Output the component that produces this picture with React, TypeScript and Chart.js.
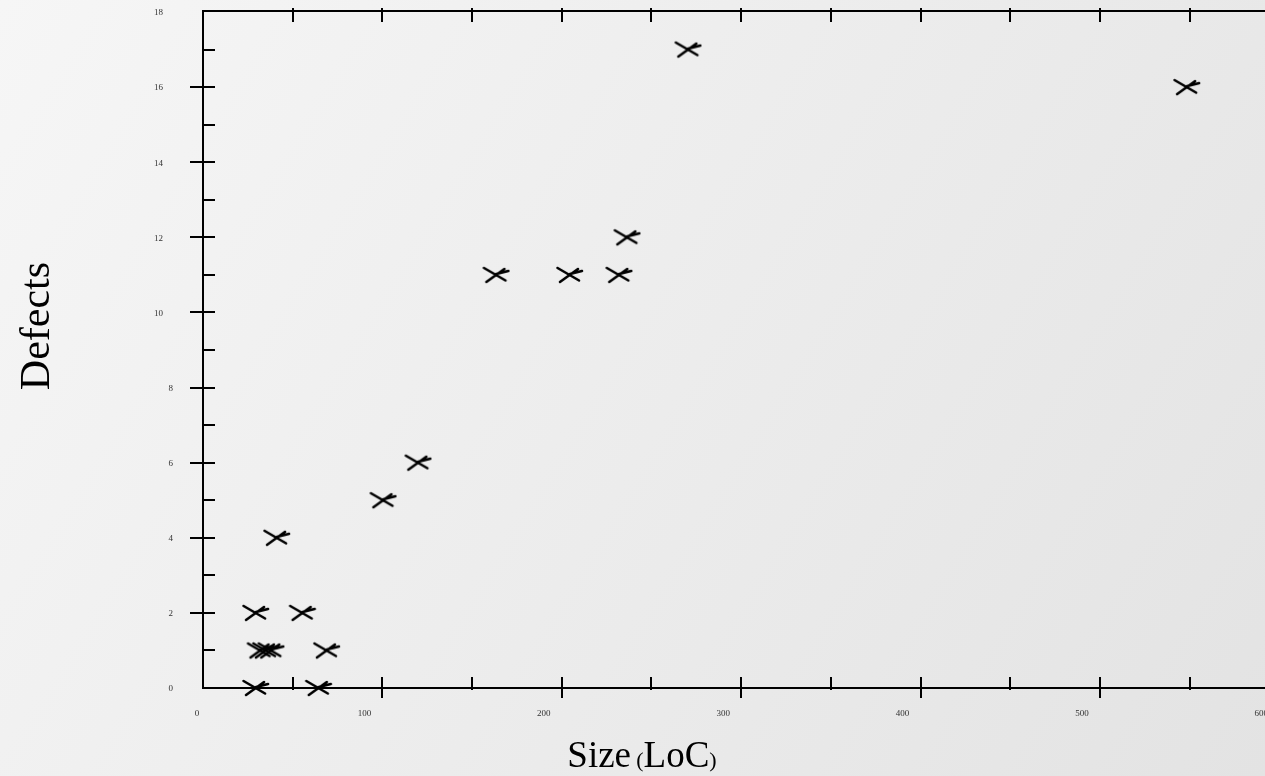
import React, { useEffect, useRef } from "react";
import { Chart, registerables } from "chart.js";

Chart.register(...registerables);

const sizeLoC = [29, 64, 29, 55, 31.5, 34.5, 37.5, 68.5, 40.7, 100, 119.5, 163, 204, 231.5, 236, 270, 548];
const defects = [0, 0, 2, 2, 1, 1, 1, 1, 4, 5, 6, 11, 11, 11, 12, 17, 16];
const xTickLabels = [0, 100, 200, 300, 400, 500, 600];
const yTickLabels = [0, 2, 4, 6, 8, 10, 12, 14, 16, 18];
const xTitle = "Size";
const xTitleUnit = "LoC";
const yTitle = "Defects";

function makeMarker(): HTMLCanvasElement {
  const c = document.createElement("canvas");
  c.width = 30;
  c.height = 20;
  const g = c.getContext("2d")!;
  const cx = 15, cy = 10;
  g.strokeStyle = "#000";
  g.lineWidth = 2.6;
  g.lineCap = "round";
  g.beginPath();
  g.moveTo(cx - 11.5, cy - 7);
  g.lineTo(cx + 10, cy + 5.5);
  g.moveTo(cx - 9, cy + 7);
  g.lineTo(cx + 9, cy - 6);
  g.moveTo(cx + 1, cy - 1);
  g.lineTo(cx + 13, cy - 4);
  g.stroke();
  return c;
}

const decor = {
  id: "decor",
  beforeDraw(chart: any) {
    const ctx = chart.ctx;
    const W = chart.width, H = chart.height;
    ctx.save();
    const grad = ctx.createLinearGradient(0, 0, W, H);
    grad.addColorStop(0, "#f6f6f6");
    grad.addColorStop(1, "#e3e3e3");
    ctx.fillStyle = grad;
    ctx.fillRect(0, 0, W, H);
    ctx.restore();
  },
  afterDatasetsDraw(chart: any) {
    const ctx = chart.ctx;
    const xs = chart.scales.x, ys = chart.scales.y;
    const left = xs.getPixelForValue(0);
    const bottom = ys.getPixelForValue(0);
    const top = ys.getPixelForValue(18);
    const W = chart.width;
    ctx.save();
    ctx.strokeStyle = "#000";
    ctx.lineWidth = 2;
    ctx.beginPath();
    ctx.moveTo(left, top - 1);
    ctx.lineTo(left, bottom);
    ctx.moveTo(left - 1, bottom);
    ctx.lineTo(W, bottom);
    ctx.moveTo(left - 1, top - 1);
    ctx.lineTo(W, top - 1);
    for (let v = 50; v <= 600; v += 50) {
      const px = Math.round(xs.getPixelForValue(v));
      const major = v % 100 === 0;
      ctx.moveTo(px, bottom - 11);
      ctx.lineTo(px, bottom + (major ? 10 : 2));
      ctx.moveTo(px, top - 4);
      ctx.lineTo(px, top + 10);
    }
    for (let v = 1; v <= 17; v++) {
      const py = Math.round(ys.getPixelForValue(v));
      const major = v % 2 === 0;
      ctx.moveTo(major ? left - 13 : left, py);
      ctx.lineTo(left + 12, py);
    }
    ctx.stroke();

    ctx.fillStyle = "#333";
    ctx.font = "9px 'Liberation Serif', serif";
    ctx.textBaseline = "middle";
    ctx.textAlign = "center";
    for (const v of xTickLabels) {
      const px = xs.getPixelForValue(v) + (v === 0 ? -6 : -18);
      ctx.fillText(String(v), px, bottom + 26);
    }
    ctx.textAlign = "right";
    for (const v of yTickLabels) {
      const py = ys.getPixelForValue(v) + 1;
      const s = String(v);
      ctx.fillText(s, left - (s.length > 1 ? 40 : 30), py);
    }

    ctx.fillStyle = "#000";
    ctx.textBaseline = "alphabetic";
    ctx.textAlign = "left";
    ctx.font = "37px 'Liberation Serif', serif";
    const sizeW = ctx.measureText(xTitle + " ").width;
    ctx.font = "22px 'Liberation Serif', serif";
    const parW = ctx.measureText("(").width;
    ctx.font = "37px 'Liberation Serif', serif";
    const locW = ctx.measureText(xTitleUnit).width;
    const totalW = sizeW + parW * 2 + locW;
    let tx = 644 - totalW / 2;
    const ty = 767;
    ctx.fillText(xTitle, tx, ty);
    tx += sizeW - 4;
    ctx.font = "22px 'Liberation Serif', serif";
    ctx.fillText("(", tx, ty);
    tx += parW;
    ctx.font = "37px 'Liberation Serif', serif";
    ctx.fillText(xTitleUnit, tx, ty);
    tx += locW;
    ctx.font = "22px 'Liberation Serif', serif";
    ctx.fillText(")", tx, ty);

    ctx.translate(49, 326);
    ctx.rotate(-Math.PI / 2);
    ctx.textAlign = "center";
    ctx.font = "42px 'Liberation Serif', serif";
    ctx.fillText(yTitle, 0, 0);
    ctx.restore();
  },
};

export default function App() {
  const ref = useRef<HTMLCanvasElement>(null);
  useEffect(() => {
    const marker = makeMarker();
    const chart = new Chart(ref.current!, {
      type: "scatter",
      data: {
        datasets: [
          {
            label: "Defects",
            data: sizeLoC.map((x, i) => ({ x, y: defects[i] })),
            pointStyle: marker as any,
            pointRadius: 10,
            borderColor: "#000",
            backgroundColor: "#000",
            clip: false as any,
          },
        ],
      },
      options: {
        responsive: false,
        animation: false,
        layout: { autoPadding: false, padding: { left: 203, top: 12, right: 0, bottom: 88 } },
        plugins: { legend: { display: false }, tooltip: { enabled: false } },
        scales: {
          x: { type: "linear", min: 0, max: 592, display: false },
          y: { type: "linear", min: 0, max: 18, display: false },
        },
      },
      plugins: [decor],
    });
    return () => chart.destroy();
  }, []);
  return (
    <div style={{ position: "fixed", left: 0, top: 0, width: 1265, height: 776 }}>
      <canvas ref={ref} width={1265} height={776} style={{ width: 1265, height: 776 }} />
    </div>
  );
}
